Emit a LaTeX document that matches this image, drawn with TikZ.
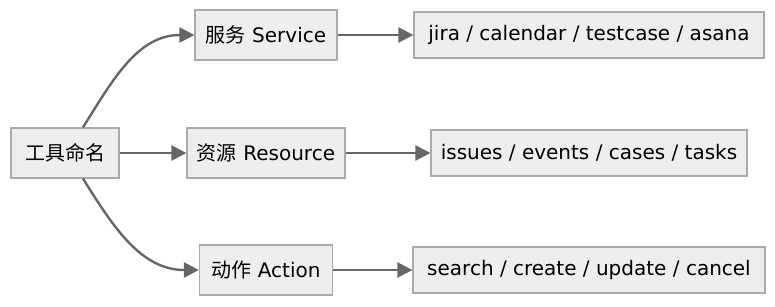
\documentclass[tikz,border=0pt]{standalone}
\usepackage{fontspec}
\setmainfont{DejaVu Sans}
\newfontfamily\cjk{Noto Sans CJK SC}
\usepackage{tikz}
\usetikzlibrary{arrows.meta,positioning}
\definecolor{linec}{HTML}{666666}
\definecolor{edgec}{HTML}{AAAAAA}
\definecolor{boxbg}{HTML}{EEEEEE}
\tikzset{
  ar/.style={-{Triangle[length=15pt,width=15pt]},line width=2.4pt,linec},
  box/.style={draw=edgec,line width=1.2pt,fill=boxbg,align=center,inner xsep=2pt,minimum height=50pt,font=\fontsize{20}{24}\selectfont},
  leaf/.style={box,minimum height=46pt}
}

\begin{document}
\begin{tikzpicture}[x=1pt,y=-1pt]
\useasboundingbox (0,0) rectangle (775,306);
\node[box,minimum width=108pt] (root) at (65,153) {\cjk 工具命名};
\node[box,minimum width=142pt] (svc) at (266,35) {{\cjk 服务} Service};
\node[box,minimum width=158pt] (res) at (266,153) {{\cjk 资源} Resource};
\node[box,minimum width=133pt] (act) at (266,270) {{\cjk 动作} Action};
\node[leaf,minimum width=350pt] (svcl) at (589,35) {jira / calendar / testcase / asana};
\node[leaf,minimum width=316pt] (resl) at (589,153) {issues / events / cases / tasks};
\node[leaf,minimum width=352pt] (actl) at (589,270) {search / create / update / cancel};
\draw[ar] ([xshift=18pt]root.north) to[out=58,in=180] (svc.west);
\draw[ar] (root) -- (res);
\draw[ar] ([xshift=18pt]root.south) to[out=-58,in=180] (act.west);
\draw[ar] (svc) -- (svcl);
\draw[ar] (res) -- (resl);
\draw[ar] (act) -- (actl);
\end{tikzpicture}
\end{document}
